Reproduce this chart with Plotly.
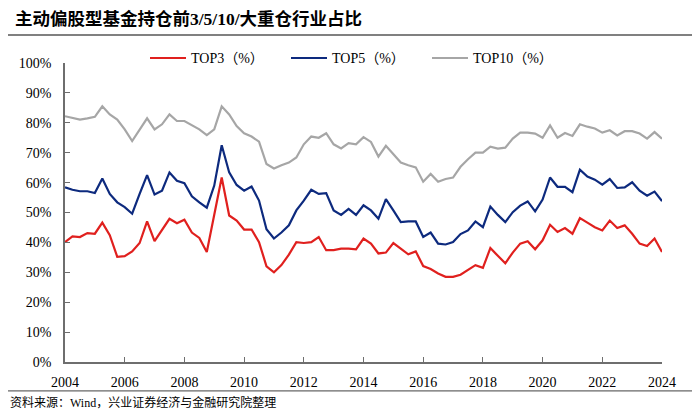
import plotly.graph_objects as go

start_year = 2004
quarters_per_year = 4

top3 = [40.1, 42.0, 41.8, 43.1, 42.9, 46.6, 42.4, 35.2, 35.4, 37.0,
        39.8, 47.0, 40.4, 44.0, 47.9, 46.4, 47.6, 43.3, 41.5, 36.8,
        49.0, 61.7, 49.0, 47.3, 44.3, 44.3, 40.1, 32.0, 30.0, 32.4,
        35.9, 40.1, 39.8, 40.1, 41.8, 37.4, 37.4, 37.9, 37.9, 37.7,
        41.3, 39.6, 36.3, 36.6, 39.8, 37.9, 36.0, 37.0, 32.1, 31.1,
        29.6, 28.5, 28.5, 29.2, 30.7, 32.4, 31.5, 38.1, 35.5, 33.0,
        36.6, 39.6, 40.4, 37.7, 40.7, 45.9, 43.5, 44.8, 42.9, 48.1,
        46.6, 45.1, 44.0, 47.3, 44.8, 45.7, 42.9, 39.6, 38.8, 41.3, 36.8]

top5 = [58.4, 57.6, 57.1, 57.1, 56.5, 61.4, 56.2, 53.4, 51.8, 49.6,
        56.2, 62.5, 56.0, 57.3, 63.4, 60.6, 59.8, 55.4, 53.4, 51.6,
        59.0, 72.5, 63.4, 59.2, 57.3, 58.7, 54.0, 44.4, 41.3, 43.3,
        45.7, 50.7, 54.0, 57.6, 56.2, 56.5, 50.7, 49.2, 51.2, 49.2,
        52.4, 50.7, 47.9, 54.5, 50.7, 46.8, 47.0, 47.0, 41.8, 43.3,
        39.6, 39.3, 40.1, 42.8, 44.0, 47.0, 45.1, 52.0, 49.2, 46.8,
        50.1, 52.3, 53.7, 50.4, 54.3, 61.7, 58.6, 58.6, 56.8, 64.3,
        62.0, 61.0, 59.3, 61.2, 58.2, 58.4, 60.1, 57.3, 55.6, 57.0, 53.8]

top10 = [82.2, 81.7, 81.1, 81.5, 82.0, 85.5, 82.8, 81.1, 77.8, 73.9,
         77.8, 81.5, 77.8, 79.5, 82.8, 80.6, 80.6, 79.1, 77.8, 75.9,
         77.8, 85.5, 82.8, 78.9, 76.5, 75.4, 73.7, 66.2, 64.7, 65.8,
         66.7, 68.4, 72.8, 75.4, 75.0, 76.5, 72.8, 71.4, 73.2, 72.8,
         75.2, 73.6, 68.7, 72.3, 69.5, 66.7, 65.8, 65.1, 60.3, 62.9,
         60.3, 61.2, 61.7, 65.3, 67.8, 70.0, 70.0, 72.0, 71.4, 71.7,
         74.7, 76.7, 76.7, 76.4, 75.0, 79.1, 75.0, 76.6, 75.6, 79.5,
         78.7, 78.1, 76.7, 77.5, 75.8, 77.2, 77.2, 76.4, 74.7, 76.9, 74.7]

x_vals = [start_year + i / quarters_per_year for i in range(len(top3))]
tick_years = list(range(2004, 2025, 2))
y_ticks = list(range(0, 101, 10))
y_labels = [f"{v}%" for v in y_ticks]

series_names = ["TOP3（%）", "TOP5（%）", "TOP10（%）"]
colors = ["#e0201e", "#0d2a7e", "#a6a6a6"]

FONT = "Liberation Serif, Times New Roman, Noto Sans CJK SC, serif"

fig = go.Figure()
for name, vals, col in zip(series_names, [top3, top5, top10], colors):
    fig.add_trace(go.Scatter(x=x_vals, y=vals, mode="lines", name=name,
                             line=dict(color=col, width=2.2)))

# page has an 8px body margin: work in page pixels and convert
OFF = 8
W, H = 700 - OFF, 411 - OFF
L = 65 - OFF
T = 62.6 - OFF
B = H - (362.5 - OFF)
R = W - (662 - OFF)
pw = W - L - R
ph = H - T - B

def px_x(px):
    return (px - OFF - L) / pw

def px_y(py):
    return (H - B - (py - OFF)) / ph

AX = "#6e6e6e"

fig.update_layout(
    width=W, height=H,
    margin=dict(l=L, r=R, t=T, b=B, autoexpand=False),
    paper_bgcolor="white", plot_bgcolor="white",
    font=dict(family=FONT, size=14, color="#000000"),
    showlegend=True,
    legend=dict(orientation="h", x=px_x(145), y=px_y(58), xanchor="left", yanchor="middle",
                entrywidth=90, entrywidthmode="pixels",
                font=dict(family=FONT, size=14, color="#000000"),
                bgcolor="rgba(0,0,0,0)", itemwidth=36),
    xaxis=dict(range=[2004, 2024], tickvals=tick_years, ticktext=[str(t) for t in tick_years],
               showgrid=False, zeroline=False, showline=True, linecolor=AX, linewidth=1.5,
               ticks="inside", ticklen=5, tickcolor=AX, ticklabelstandoff=6,
               tickfont=dict(family=FONT, size=14, color="#000000")),
    yaxis=dict(range=[0, 100], tickvals=y_ticks, ticktext=y_labels,
               showgrid=False, zeroline=False, showline=True, linecolor=AX, linewidth=1.5,
               ticks="inside", ticklen=5, tickcolor=AX, ticklabelstandoff=9,
               tickfont=dict(family=FONT, size=14, color="#000000")),
)

fig.add_annotation(text="<b>主动偏股型基金持仓前3/5/10/大重仓行业占比</b>",
                   xref="paper", yref="paper", x=px_x(13), y=px_y(18),
                   xanchor="left", yanchor="middle", showarrow=False,
                   font=dict(family=FONT, size=17.5, color="#000000"))
fig.add_annotation(text="资料来源：Wind，兴业证券经济与金融研究院整理",
                   xref="paper", yref="paper", x=px_x(8), y=px_y(403),
                   xanchor="left", yanchor="middle", showarrow=False,
                   font=dict(family=FONT, size=12, color="#000000"))

fig.add_shape(type="line", xref="paper", yref="paper",
              x0=px_x(OFF), x1=px_x(700), y0=px_y(34.5), y1=px_y(34.5),
              line=dict(color="#808080", width=2))
fig.add_shape(type="line", xref="paper", yref="paper",
              x0=px_x(OFF), x1=px_x(700), y0=px_y(391.5), y1=px_y(391.5),
              line=dict(color="#404040", width=1))

fig.write_html("out.html")
